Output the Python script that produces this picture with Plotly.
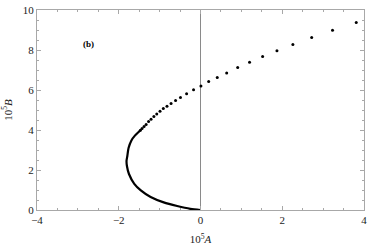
import plotly.graph_objects as go

# Lower (dense, continuous-looking) branch
lower_A = [0.0, -0.25, -0.57, -0.90, -1.22, -1.46, -1.62, -1.75, -1.80, -1.81, -1.79, -1.76, -1.69, -1.60, -1.52, -1.47]
lower_B = [0.0, 0.06, 0.20, 0.38, 0.65, 0.98, 1.31, 1.80, 2.20, 2.45, 2.70, 3.10, 3.48, 3.73, 3.89, 3.99]

# Upper (sparse dotted) branch
upper_A = [-1.47, -1.43, -1.38, -1.33, -1.27, -1.21, -1.14, -1.07, -0.99, -0.91, -0.82, -0.72,
           -0.61, -0.49, -0.34, -0.17, 0.01, 0.20, 0.41, 0.64, 0.91, 1.20, 1.52, 1.87, 2.26,
           2.72, 3.23, 3.81]
upper_B = [3.99, 4.07, 4.17, 4.28, 4.42, 4.54, 4.67, 4.80, 4.94, 5.07, 5.19, 5.33,
           5.47, 5.62, 5.81, 6.01, 6.20, 6.42, 6.63, 6.85, 7.12, 7.39, 7.67, 7.96, 8.27,
           8.63, 8.99, 9.38]

x_ticks = [-4, -2, 0, 2, 4]
x_tick_labels = ["\u22124", "\u22122", "0", "2", "4"]
y_ticks = [0, 2, 4, 6, 8, 10]
y_tick_labels = ["0", "2", "4", "6", "8", "10"]

fig = go.Figure()
fig.add_trace(go.Scatter(x=lower_A, y=lower_B, mode="lines",
                         line=dict(color="black", width=2.2, shape="spline", smoothing=0.8),
                         hoverinfo="skip", showlegend=False))
fig.add_trace(go.Scatter(x=upper_A, y=upper_B, mode="markers",
                         marker=dict(color="black", size=3.0),
                         showlegend=False))

fig.add_shape(type="line", x0=0, x1=0, y0=0, y1=10, xref="x", yref="y",
              line=dict(color="#8a8a8a", width=1), layer="below")

fig.add_annotation(x=-2.75, y=8.3, text="<b>(b)</b>", showarrow=False,
                   font=dict(family="Liberation Serif", size=9, color="black"))

axis_common = dict(
    showgrid=False, zeroline=False, showline=True, linecolor="#a8a8a8", linewidth=1,
    mirror="ticks", ticks="inside", ticklen=4, tickcolor="#a8a8a8", tickwidth=1,
    ticklabeloverflow="allow",
    tickfont=dict(family="Liberation Serif", size=11, color="#222"),
)

fig.update_xaxes(range=[-4, 4], tickvals=x_ticks, ticktext=x_tick_labels,
                 minor=dict(dtick=0.5, ticks="inside", ticklen=2, tickcolor="#a8a8a8"),
                 title=dict(text="10<sup>5</sup><i>A</i>", standoff=10,
                            font=dict(family="Liberation Serif", size=11, color="#222")),
                 **axis_common)
fig.update_yaxes(range=[0, 10], tickvals=y_ticks, ticktext=y_tick_labels,
                 minor=dict(dtick=0.5, ticks="inside", ticklen=2, tickcolor="#a8a8a8"),
                 title=dict(text="10<sup>5</sup><i>B</i>", standoff=10,
                            font=dict(family="Liberation Serif", size=11, color="#222")),
                 **axis_common)

fig.update_layout(width=371, height=248, margin=dict(l=37, r=4, t=6, b=38),
                  plot_bgcolor="white", paper_bgcolor="white")

fig.write_html("out.html", config={"displayModeBar": False})

with open("out.html", "r", encoding="utf-8") as f:
    html = f.read()
html = html.replace("<head>", "<head><style>html,body{margin:0;padding:0;overflow:hidden;}</style>", 1)
with open("out.html", "w", encoding="utf-8") as f:
    f.write(html)
